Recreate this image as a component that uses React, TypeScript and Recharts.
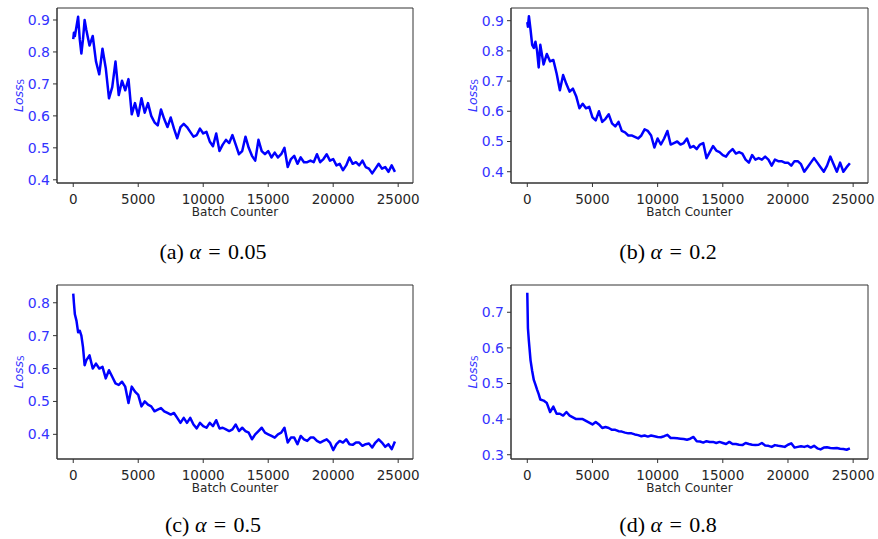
import { LineChart, Line, XAxis, YAxis, Label, ReferenceArea } from "recharts";

// batch counter positions (finer at the start where the curves drop fast)
const batches = [
  0, 50, 125, 250, 375, 500, 625, 750, 875,
  1000, 1250, 1500, 1750, 2000, 2250, 2500, 2750,
  3000, 3250, 3500, 3750, 4000, 4250, 4500, 4750,
  5000, 5250, 5500, 5750, 6000, 6250, 6500, 6750,
  7000, 7250, 7500, 7750, 8000, 8250, 8500, 8750,
  9000, 9250, 9500, 9750, 10000, 10250, 10500, 10750,
  11000, 11250, 11500, 11750, 12000, 12250, 12500, 12750,
  13000, 13250, 13500, 13750, 14000, 14250, 14500, 14750,
  15000, 15250, 15500, 15750, 16000, 16250, 16500, 16750,
  17000, 17250, 17500, 17750, 18000, 18250, 18500, 18750,
  19000, 19250, 19500, 19750, 20000, 20250, 20500, 20750,
  21000, 21250, 21500, 21750, 22000, 22250, 22500, 22750,
  23000, 23250, 23500, 23750, 24000, 24250, 24500, 24750,
];

// (a) alpha = 0.05
const lossA = [
  0.84, 0.86, 0.85, 0.88, 0.91, 0.84, 0.795, 0.84, 0.9,
  0.87, 0.82, 0.85, 0.77, 0.73, 0.81, 0.75, 0.655,
  0.69, 0.77, 0.665, 0.71, 0.68, 0.715, 0.605, 0.64,
  0.6, 0.655, 0.61, 0.64, 0.6, 0.58, 0.57, 0.62,
  0.59, 0.565, 0.595, 0.56, 0.53, 0.565, 0.575, 0.565,
  0.55, 0.535, 0.54, 0.56, 0.545, 0.55, 0.52, 0.505,
  0.545, 0.49, 0.51, 0.525, 0.515, 0.54, 0.51, 0.48,
  0.49, 0.535, 0.5, 0.475, 0.46, 0.525, 0.49, 0.48,
  0.49, 0.47, 0.485, 0.47, 0.48, 0.5, 0.44, 0.465,
  0.475, 0.45, 0.47, 0.455, 0.455, 0.46, 0.455, 0.48,
  0.455, 0.465, 0.48, 0.46, 0.465, 0.445, 0.45, 0.43,
  0.445, 0.47, 0.45, 0.455, 0.445, 0.46, 0.44, 0.435,
  0.42, 0.435, 0.45, 0.435, 0.44, 0.425, 0.445, 0.425,
];

// (b) alpha = 0.2
const lossB = [
  0.895, 0.88, 0.915, 0.87, 0.82, 0.81, 0.83, 0.8, 0.745,
  0.82, 0.755, 0.79, 0.765, 0.77, 0.725, 0.67, 0.72,
  0.69, 0.665, 0.675, 0.65, 0.61, 0.625, 0.61, 0.615,
  0.58, 0.57, 0.6, 0.565, 0.575, 0.59, 0.56, 0.55,
  0.565, 0.535, 0.53, 0.52, 0.52, 0.515, 0.51, 0.52,
  0.54, 0.535, 0.52, 0.48, 0.51, 0.49, 0.51, 0.535,
  0.49, 0.495, 0.5, 0.49, 0.495, 0.51, 0.48, 0.485,
  0.475, 0.49, 0.495, 0.445, 0.465, 0.485, 0.47, 0.465,
  0.455, 0.45, 0.465, 0.475, 0.46, 0.465, 0.46, 0.44,
  0.43, 0.455, 0.44, 0.445, 0.44, 0.45, 0.44, 0.42,
  0.44, 0.435, 0.435, 0.43, 0.43, 0.42, 0.435, 0.435,
  0.425, 0.4, 0.415, 0.43, 0.445, 0.43, 0.415, 0.4,
  0.42, 0.45, 0.425, 0.4, 0.43, 0.4, 0.415, 0.428,
];

// (c) alpha = 0.5
const lossC = [
  0.828, 0.8, 0.765, 0.745, 0.71, 0.715, 0.7, 0.665, 0.61,
  0.625, 0.64, 0.6, 0.615, 0.6, 0.605, 0.57, 0.595,
  0.575, 0.555, 0.55, 0.56, 0.545, 0.495, 0.545, 0.53,
  0.52, 0.485, 0.5, 0.49, 0.485, 0.47, 0.475, 0.48,
  0.47, 0.465, 0.46, 0.465, 0.45, 0.435, 0.45, 0.435,
  0.45, 0.43, 0.418, 0.435, 0.425, 0.42, 0.435, 0.425,
  0.443, 0.418, 0.42, 0.415, 0.41, 0.415, 0.43, 0.41,
  0.42, 0.41, 0.405, 0.385, 0.4, 0.41, 0.42, 0.405,
  0.4, 0.395, 0.39, 0.4, 0.405, 0.42, 0.375, 0.39,
  0.39, 0.37, 0.395, 0.385, 0.38, 0.39, 0.39, 0.38,
  0.375, 0.38, 0.385, 0.375, 0.352, 0.37, 0.38, 0.375,
  0.385, 0.37, 0.368, 0.375, 0.375, 0.365, 0.37, 0.372,
  0.36, 0.375, 0.385, 0.375, 0.362, 0.37, 0.355, 0.378,
];

// (d) alpha = 0.8
const lossD = [
  0.755, 0.655, 0.618, 0.565, 0.535, 0.51, 0.497, 0.483, 0.47,
  0.455, 0.452, 0.445, 0.42, 0.435, 0.415, 0.415, 0.41,
  0.42, 0.41, 0.405, 0.4, 0.4, 0.4, 0.395, 0.39,
  0.385, 0.392, 0.385, 0.375, 0.378, 0.375, 0.37, 0.37,
  0.366, 0.365, 0.362, 0.36, 0.36, 0.357, 0.355, 0.352,
  0.354, 0.351, 0.354, 0.352, 0.35, 0.349, 0.352, 0.356,
  0.347, 0.347, 0.346, 0.345, 0.344, 0.342, 0.345, 0.35,
  0.338, 0.337, 0.334, 0.338, 0.336, 0.336, 0.333, 0.336,
  0.333, 0.33, 0.336, 0.33, 0.33, 0.328, 0.327, 0.333,
  0.33, 0.328, 0.327, 0.328, 0.333, 0.326, 0.325, 0.322,
  0.327, 0.325, 0.324, 0.322, 0.328, 0.332, 0.32, 0.322,
  0.324, 0.322, 0.325, 0.32, 0.325, 0.318, 0.315, 0.32,
  0.321, 0.319, 0.318, 0.319, 0.317, 0.316, 0.314, 0.318,
];

const xTicks = [0, 5000, 10000, 15000, 20000, 25000];
const yTicksAB = [0.4, 0.5, 0.6, 0.7, 0.8, 0.9];
const yTicksC = [0.4, 0.5, 0.6, 0.7, 0.8];
const yTicksD = [0.3, 0.4, 0.5, 0.6, 0.7];

const captions = ["(a)", "(b)", "(c)", "(d)"];
const alphas = ["0.05", "0.2", "0.5", "0.8"];

const xDomain: [number, number] = [-1250, 26140];
const spine = "#333";
const tickBlue = "#3333ff";

function renderXLabel(props: any) {
  const vb = props.viewBox;
  return (
    <text x={vb.x + vb.width / 2} y={vb.y + 33} textAnchor="middle" fontSize={12} fill="#262626">
      Batch Counter
    </text>
  );
}

function renderYLabel(props: any) {
  const vb = props.viewBox;
  const cx = vb.x + vb.width - 39;
  const cy = vb.y + vb.height / 2;
  return (
    <text x={cx} y={cy} transform={`rotate(-90 ${cx} ${cy})`} textAnchor="middle" dominantBaseline="central" fontSize={12.5} fill={tickBlue}>
      <tspan fontStyle="italic">Loss</tspan>
      <tspan fontSize={8.5} dy={3}>S</tspan>
    </text>
  );
}

interface PanelProps {
  values: number[];
  yDomain: [number, number];
  yTicks: number[];
  left: number;
  top: number;
  width: number;
  height: number;
  yWidth: number;
  right: number;
}

function LossPanel({ values, yDomain, yTicks, left, top, width, height, yWidth, right }: PanelProps) {
  const data = batches.map((b, i) => ({ batch: b, loss: values[i] }));
  return (
    <div style={{ position: "absolute", left, top }}>
      <LineChart width={width} height={height} data={data} margin={{ top: 8, right, left: 0, bottom: 0 }}>
        <XAxis
          dataKey="batch"
          type="number"
          domain={xDomain}
          ticks={xTicks}
          interval={0}
          allowDataOverflow
          height={47}
          stroke={spine}
          tickSize={4}
          tickMargin={7}
          tick={{ fill: "#262626", fontSize: 13.5 }}
        >
          <Label content={renderXLabel} />
        </XAxis>
        <YAxis
          type="number"
          domain={yDomain}
          ticks={yTicks}
          interval={0}
          allowDataOverflow
          width={yWidth}
          stroke={spine}
          tickSize={4}
          tickMargin={3}
          tick={{ fill: tickBlue, fontSize: 14 }}
          tickFormatter={(v: number) => v.toFixed(1)}
        >
          <Label content={renderYLabel} />
        </YAxis>
        <ReferenceArea
          x1={xDomain[0]}
          x2={xDomain[1]}
          y1={yDomain[0]}
          y2={yDomain[1]}
          fill="none"
          fillOpacity={0}
          stroke={spine}
          strokeWidth={1}
          ifOverflow="visible"
        />
        <Line
          type="linear"
          dataKey="loss"
          stroke="#0000ff"
          strokeWidth={2.5}
          strokeLinejoin="round"
          dot={false}
          isAnimationActive={false}
        />
      </LineChart>
    </div>
  );
}

function Caption({ idx, cx, baseline }: { idx: number; cx: number; baseline: number }) {
  return (
    <div
      style={{
        position: "absolute",
        left: cx - 100,
        top: baseline - 18.4,
        width: 200,
        textAlign: "center",
        fontFamily: "'Liberation Serif', serif",
        fontSize: 22,
        lineHeight: "22px",
        color: "#000",
        whiteSpace: "pre",
      }}
    >
      {captions[idx] + " "}
      <i>α</i>
      {"\u2004=\u2004" + alphas[idx]}
    </div>
  );
}

export default function App() {
  return (
    <div style={{ position: "absolute", left: 0, top: 0, width: 878, height: 539, background: "#fff", fontFamily: "'DejaVu Sans', sans-serif" }}>
      <LossPanel values={lossA} yDomain={[0.39, 0.9375]} yTicks={yTicksAB} left={0} top={0} width={420} height={230} yWidth={57} right={7} />
      <LossPanel values={lossB} yDomain={[0.3626, 0.942]} yTicks={yTicksAB} left={440} top={0} width={438} height={230} yWidth={71} right={10} />
      <LossPanel values={lossC} yDomain={[0.325, 0.854]} yTicks={yTicksC} left={0} top={277} width={420} height={229} yWidth={57} right={7} />
      <LossPanel values={lossD} yDomain={[0.288, 0.7766]} yTicks={yTicksD} left={440} top={277} width={438} height={229} yWidth={71} right={10} />
      <Caption idx={0} cx={213} baseline={259} />
      <Caption idx={1} cx={668} baseline={259} />
      <Caption idx={2} cx={213} baseline={532} />
      <Caption idx={3} cx={668} baseline={532} />
    </div>
  );
}
